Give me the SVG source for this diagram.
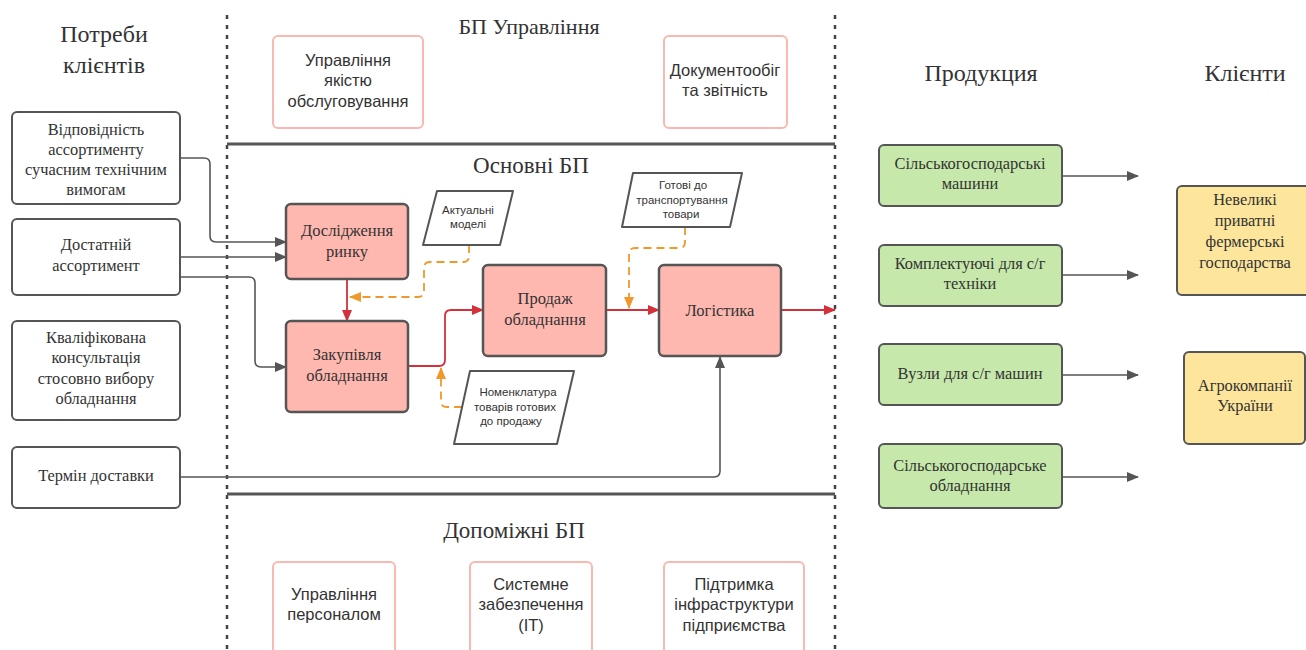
<svg xmlns="http://www.w3.org/2000/svg" width="1306" height="650" viewBox="0 0 1306 650">
<defs>
<style>
.serif{font-family:"Liberation Serif","Times New Roman",serif;fill:#333;}
.sans{font-family:"Liberation Sans",Arial,sans-serif;fill:#333;}
.title{font-size:24px;}
.t15{font-size:16.4px;}
.t16{font-size:16.5px;}
.t11{font-size:11.5px;}
.need{fill:#fff;stroke:#555;stroke-width:2;}
.proc{fill:#ffb8b0;stroke:#555;stroke-width:2.5;}
.data{fill:#fff;stroke:#555;stroke-width:2;stroke-linejoin:round;}
.pink{fill:#fff;stroke:#f9b8b0;stroke-width:2;}
.prod{fill:#c6e8ab;stroke:#555;stroke-width:2;}
.cli{fill:#fde69c;stroke:#555;stroke-width:2;}
.gray{fill:none;stroke:#555;stroke-width:1.6;}
.red{fill:none;stroke:#d3303c;stroke-width:1.8;}
.org{fill:none;stroke:#f0992a;stroke-width:1.8;stroke-dasharray:8 5;}
.sep{stroke:#555;stroke-width:3;}
.dot{stroke:#444;stroke-width:2.5;stroke-dasharray:4 6;}
</style>
<marker id="ag" markerWidth="12" markerHeight="10" refX="11" refY="5" orient="auto" markerUnits="userSpaceOnUse"><path d="M0,0 L12,5 L0,10 Z" fill="#555"/></marker>
<marker id="ar" markerWidth="12" markerHeight="10" refX="11" refY="5" orient="auto" markerUnits="userSpaceOnUse"><path d="M0,0 L12,5 L0,10 Z" fill="#d3303c"/></marker>
<marker id="ao" markerWidth="12" markerHeight="10" refX="11" refY="5" orient="auto" markerUnits="userSpaceOnUse"><path d="M0,0 L12,5 L0,10 Z" fill="#f0992a"/></marker>
</defs>
<rect width="1306" height="650" fill="#fff"/>

<g id="frame">
<line class="dot" x1="227" y1="15" x2="227" y2="650"/>
<line class="dot" x1="835" y1="15" x2="835" y2="650"/>
<line class="sep" x1="227" y1="144" x2="835" y2="144"/>
<line class="sep" x1="227" y1="494" x2="835" y2="494"/>
</g>

<g id="titles" class="serif" text-anchor="middle">
<text class="title" x="104" y="42">Потреби</text>
<text class="title" x="104" y="73">клієнтів</text>
<text x="529" y="34" font-size="22">БП Управління</text>
<text x="531" y="173" font-size="23">Основні БП</text>
<text x="514" y="538" font-size="23">Допоміжні БП</text>
<text class="title" x="981" y="81">Продукция</text>
<text class="title" x="1245" y="81">Клієнти</text>
</g>

<g id="connectors">
<path class="gray" d="M180,158 H204 Q210,158 210,164 V236 Q210,242 216,242 H286" marker-end="url(#ag)"/>
<path class="gray" d="M180,257 H286" marker-end="url(#ag)"/>
<path class="gray" d="M180,277 H249 Q255,277 255,283 V361 Q255,367 261,367 H286" marker-end="url(#ag)"/>
<path class="gray" d="M180,477 H714 Q720,477 720,471 V357" marker-end="url(#ag)"/>
<path class="red" d="M347,279 V321" marker-end="url(#ar)"/>
<path class="red" d="M408,366 H439 Q445,366 445,360 V316 Q445,310 451,310 H483" marker-end="url(#ar)"/>
<path class="red" d="M606,310 H659" marker-end="url(#ar)"/>
<path class="red" d="M781,310 H835" marker-end="url(#ar)"/>
<path class="org" d="M469,245 V256 Q469,262 463,262 H430 Q424,262 424,268 V291 Q424,297 418,297 H350" marker-end="url(#ao)"/>
<path class="org" d="M462,407 H447 Q441,407 441,401 V368" marker-end="url(#ao)"/>
<path class="org" d="M685,227 V242 Q685,248 679,248 H635 Q629,248 629,254 V308" marker-end="url(#ao)"/>
<path class="gray" d="M1062,176 H1138" marker-end="url(#ag)"/>
<path class="gray" d="M1062,275 H1138" marker-end="url(#ag)"/>
<path class="gray" d="M1062,375 H1138" marker-end="url(#ag)"/>
<path class="gray" d="M1062,477 H1138" marker-end="url(#ag)"/>
</g>

<g id="need1"><rect class="need" x="12" y="112" width="168" height="92" rx="5"/>
<text class="serif t15" text-anchor="middle" x="96"><tspan x="96" y="135">Відповідність</tspan><tspan x="96" y="155">ассортименту</tspan><tspan x="96" y="175">сучасним технічним</tspan><tspan x="96" y="195">вимогам</tspan></text></g>
<g id="need2"><rect class="need" x="12" y="219" width="168" height="76" rx="5"/>
<text class="serif t15" text-anchor="middle"><tspan x="96" y="250">Достатній</tspan><tspan x="96" y="271">ассортимент</tspan></text></g>
<g id="need3"><rect class="need" x="12" y="321" width="168" height="99" rx="5"/>
<text class="serif t15" text-anchor="middle"><tspan x="96" y="343">Кваліфікована</tspan><tspan x="96" y="363">консультація</tspan><tspan x="96" y="384">стосовно вибору</tspan><tspan x="96" y="404">обладнання</tspan></text></g>
<g id="need4"><rect class="need" x="12" y="447" width="168" height="61" rx="5"/>
<text class="serif t15" text-anchor="middle" x="96" y="481">Термін доставки</text></g>

<g id="mgmt1"><rect class="pink" x="273" y="36" width="150" height="92" rx="5"/>
<text class="sans t16" text-anchor="middle"><tspan x="348" y="66">Управління</tspan><tspan x="348" y="86">якістю</tspan><tspan x="348" y="107">обслуговування</tspan></text></g>
<g id="mgmt2"><rect class="pink" x="664" y="36" width="123" height="92" rx="5"/>
<text class="sans t16" text-anchor="middle"><tspan x="725" y="76">Документообіг</tspan><tspan x="725" y="96">та звітність</tspan></text></g>

<g id="research"><rect class="proc" x="286" y="204" width="122" height="75" rx="5"/>
<text class="serif t16" text-anchor="middle"><tspan x="347" y="236">Дослідження</tspan><tspan x="347" y="257">ринку</tspan></text></g>
<g id="purchase"><rect class="proc" x="286" y="321" width="122" height="91" rx="5"/>
<text class="serif t16" text-anchor="middle"><tspan x="347" y="360">Закупівля</tspan><tspan x="347" y="381">обладнання</tspan></text></g>
<g id="sales"><rect class="proc" x="483" y="265" width="123" height="91" rx="5"/>
<text class="serif t16" text-anchor="middle"><tspan x="545" y="304">Продаж</tspan><tspan x="545" y="325">обладнання</tspan></text></g>
<g id="logistics"><rect class="proc" x="659" y="265" width="122" height="91" rx="5"/>
<text class="serif t16" text-anchor="middle" x="720" y="316">Логістика</text></g>

<g id="data1"><polygon class="data" points="437,191 513,191 500,245 423,245"/>
<text class="sans t11" text-anchor="middle"><tspan x="468" y="214">Актуальні</tspan><tspan x="468" y="228">моделі</tspan></text></g>
<g id="data2"><polygon class="data" points="633,173 742,173 730,227 622,227"/>
<text class="sans t11" text-anchor="middle"><tspan x="683" y="189">Готові до</tspan><tspan x="682" y="204">транспортування</tspan><tspan x="681" y="218">товари</tspan></text></g>
<g id="data3"><polygon class="data" points="470,371 574,371 557,444 454,444"/>
<text class="sans t11" text-anchor="middle"><tspan x="518" y="396">Номенклатура</tspan><tspan x="515" y="411">товарів готових</tspan><tspan x="511" y="425">до продажу</tspan></text></g>

<g id="sup1"><rect class="pink" x="273" y="562" width="122" height="100" rx="5"/>
<text class="sans t16" text-anchor="middle"><tspan x="334" y="600">Управління</tspan><tspan x="334" y="620">персоналом</tspan></text></g>
<g id="sup2"><rect class="pink" x="470" y="562" width="122" height="100" rx="5"/>
<text class="sans t16" text-anchor="middle"><tspan x="531" y="590">Системне</tspan><tspan x="531" y="610">забезпечення</tspan><tspan x="531" y="631">(IT)</tspan></text></g>
<g id="sup3"><rect class="pink" x="664" y="562" width="140" height="100" rx="5"/>
<text class="sans t16" text-anchor="middle"><tspan x="734" y="590">Підтримка</tspan><tspan x="734" y="610">інфраструктури</tspan><tspan x="734" y="631">підприємства</tspan></text></g>

<g id="prod1"><rect class="prod" x="879" y="145" width="183" height="61" rx="5"/>
<text class="serif t15" text-anchor="middle"><tspan x="970" y="169">Сільськогосподарські</tspan><tspan x="970" y="189">машини</tspan></text></g>
<g id="prod2"><rect class="prod" x="879" y="245" width="183" height="61" rx="5"/>
<text class="serif t15" text-anchor="middle"><tspan x="970" y="269">Комплектуючі для с/г</tspan><tspan x="970" y="289">техніки</tspan></text></g>
<g id="prod3"><rect class="prod" x="879" y="344" width="183" height="61" rx="5"/>
<text class="serif t15" text-anchor="middle" x="970" y="379">Вузли для с/г машин</text></g>
<g id="prod4"><rect class="prod" x="879" y="444" width="183" height="64" rx="5"/>
<text class="serif t15" text-anchor="middle"><tspan x="970" y="471">Сільськогосподарське</tspan><tspan x="970" y="491">обладнання</tspan></text></g>

<g id="client1"><rect class="cli" x="1177" y="186" width="135" height="109" rx="5"/>
<text class="serif t15" text-anchor="middle"><tspan x="1245" y="205">Невеликі</tspan><tspan x="1245" y="226">приватні</tspan><tspan x="1245" y="247">фермерські</tspan><tspan x="1245" y="268">господарства</tspan></text></g>
<g id="client2"><rect class="cli" x="1184" y="352" width="121" height="92" rx="5"/>
<text class="serif t15" text-anchor="middle"><tspan x="1245" y="391">Агрокомпанії</tspan><tspan x="1245" y="411">України</tspan></text></g>
</svg>
